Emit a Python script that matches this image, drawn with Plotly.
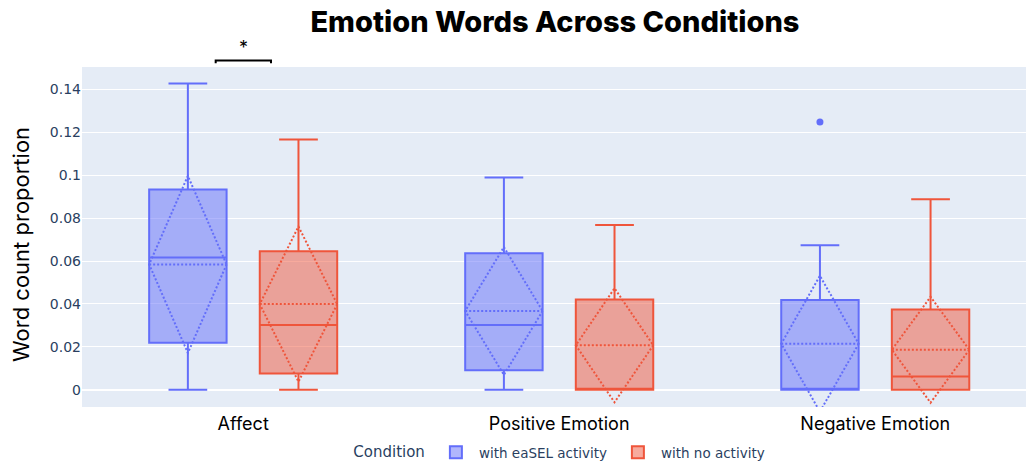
import plotly.graph_objects as go

categories = ["Affect", "Positive Emotion", "Negative Emotion"]
positions = [0, 1, 2]
y_ticks = [0, 0.02, 0.04, 0.06, 0.08, 0.1, 0.12, 0.14]

easel_name = "with eaSEL activity"
easel_q1 = [0.0219, 0.0090, 0.0]
easel_median = [0.0616, 0.0302, 0.0]
easel_q3 = [0.0934, 0.0636, 0.0418]
easel_lower = [0.0, 0.0, 0.0]
easel_upper = [0.1428, 0.0989, 0.0674]
easel_mean = [0.0584, 0.0367, 0.0214]
easel_sd = [0.0413, 0.0298, 0.0317]
easel_outlier_cat = [2]
easel_outlier_val = [0.1248]

noact_name = "with no activity"
noact_q1 = [0.0075, 0.0, 0.0]
noact_median = [0.0301, 0.0, 0.0061]
noact_q3 = [0.0646, 0.0421, 0.0374]
noact_lower = [0.0, 0.0, 0.0]
noact_upper = [0.1167, 0.0768, 0.0888]
noact_mean = [0.0399, 0.0207, 0.0186]
noact_sd = [0.0362, 0.0266, 0.0247]

BLUE = "#636EFA"
RED = "#EF553B"
TXT_FONT = "Inter, 'Liberation Sans', Arial, sans-serif"
TICK_FONT = "'DejaVu Sans', Verdana, sans-serif"

fig = go.Figure()
fig.add_trace(go.Box(
    name=easel_name, x=positions, q1=easel_q1, median=easel_median, q3=easel_q3,
    lowerfence=easel_lower, upperfence=easel_upper, mean=easel_mean, sd=easel_sd,
    boxmean="sd", marker_color=BLUE, line=dict(color=BLUE, width=2),
    offsetgroup="a",
))
fig.add_trace(go.Box(
    name=noact_name, x=positions, q1=noact_q1, median=noact_median, q3=noact_q3,
    lowerfence=noact_lower, upperfence=noact_upper, mean=noact_mean, sd=noact_sd,
    boxmean="sd", marker_color=RED, line=dict(color=RED, width=2),
    offsetgroup="b",
))
# outlier drawn at the grouped-box offset (group width 0.7 -> half box slot 0.175)
fig.add_trace(go.Scatter(
    x=[c - 0.175 for c in easel_outlier_cat], y=easel_outlier_val, mode="markers",
    marker=dict(color=BLUE, size=7), showlegend=False,
    hoverinfo="y",
))

fig.update_layout(
    width=1026, height=463, autosize=False,
    template="plotly",
    boxmode="group",
    margin=dict(l=82, r=0, t=67, b=56, autoexpand=False),
    title=dict(text="Emotion Words Across Conditions", x=0.501, xanchor="center",
               xref="paper", y=0.953, yanchor="middle",
               font=dict(family=TXT_FONT, size=29, color="black", weight=800)),
    legend=dict(orientation="h", x=0.5215, xanchor="center", y=-0.134, yanchor="middle",
                itemwidth=36, entrywidth=131,
                title=dict(text="Condition", font=dict(size=15, family=TICK_FONT, color="#2a3f5f")),
                font=dict(size=13.5, family=TICK_FONT, color="#2a3f5f")),
    xaxis=dict(range=[-0.51, 2.477], tickmode="array", tickvals=positions, ticktext=categories,
               tickfont=dict(family=TXT_FONT, size=18, color="black"), showgrid=False,
               zeroline=False, automargin=False, ticklabelstandoff=4),
    yaxis=dict(range=[-0.0081, 0.1505], tickmode="array", tickvals=y_ticks,
               ticktext=["0", "0.02", "0.04", "0.06", "0.08", "0.1", "0.12", "0.14"],
               tickfont=dict(family=TICK_FONT, size=14, color="#2a3f5f"),
               zeroline=True, zerolinecolor="white", zerolinewidth=2, automargin=False),
)

# y axis title (placed as annotation to match reference position)
fig.add_annotation(x=-0.0639, y=0.4785, xref="paper", yref="paper", text="Word count proportion",
                   textangle=-90, showarrow=False, xanchor="center", yanchor="middle",
                   font=dict(family=TXT_FONT, size=22, color="black"))

# significance bracket over Affect
fig.add_shape(type="path", xref="x", yref="paper",
              path="M -0.087,1.011 L -0.087,1.019 L 0.088,1.019 L 0.088,1.011",
              line=dict(color="black", width=2))
fig.add_annotation(x=0, y=1.058, xref="x", yref="paper", text="*", showarrow=False,
                   font=dict(family=TXT_FONT, size=18, color="black"), yanchor="middle")

post = """
document.body.style.margin = '0';
document.body.style.overflow = 'hidden';
var gd = document.getElementById('{plot_id}');
function dotMeans(){ gd.querySelectorAll('path.mean').forEach(function(p){ p.style.strokeDasharray='2px,2px'; }); }
dotMeans();
gd.on('plotly_afterplot', dotMeans);
"""
fig.write_html("out.html", post_script=post, config={"displayModeBar": False})
